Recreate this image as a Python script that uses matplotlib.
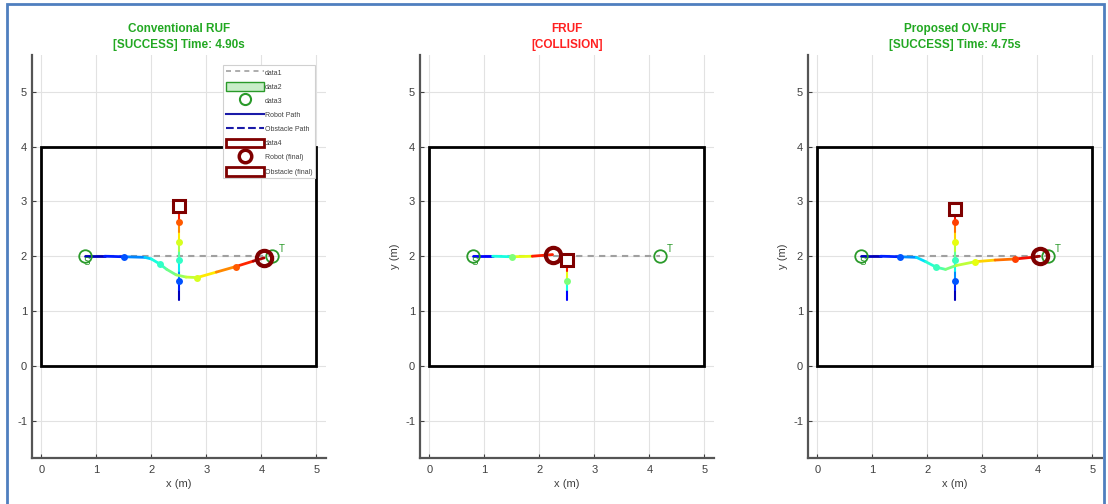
import numpy as np
import matplotlib.pyplot as plt
from matplotlib.collections import LineCollection
from matplotlib.lines import Line2D
from matplotlib.patches import Rectangle

plt.rcParams['font.family'] = ['Liberation Sans', 'DejaVu Sans']
plt.rcParams['axes.unicode_minus'] = False

# ─────────────────────────────────────────────────────────────
# Scenario data
# ─────────────────────────────────────────────────────────────
ROOM = (0.0, 0.0, 5.0, 4.0)          # x0, y0, width, height
START = (0.8, 2.0)
GOAL = (4.2, 2.0)

titles = ["Conventional RUF", "FRUF", "Proposed OV-RUF"]
statuses = ["[SUCCESS] Time: 4.90s", "[COLLISION]", "[SUCCESS] Time: 4.75s"]
success = [True, False, True]
final_times = [4.90, 2.00, 4.75]

# robot trajectories: time stamps and positions
ruf_t = [0.0, 0.5, 1.0, 1.5, 1.75, 2.0, 2.25, 2.5, 2.75, 3.0, 3.5, 4.0, 4.5, 4.9]
ruf_x = [0.80, 1.15, 1.51, 1.88, 2.00, 2.15, 2.28, 2.45, 2.63, 2.83, 3.18, 3.53, 3.85, 4.05]
ruf_y = [2.00, 2.00, 1.99, 1.98, 1.95, 1.86, 1.76, 1.66, 1.62, 1.61, 1.71, 1.81, 1.91, 1.97]

fruf_t = [0.0, 0.5, 1.0, 1.5, 2.0]
fruf_x = [0.80, 1.15, 1.50, 1.87, 2.24]
fruf_y = [2.00, 2.00, 1.99, 2.00, 2.03]

ovruf_t = [0.0, 0.5, 1.0, 1.5, 1.75, 2.0, 2.25, 2.5, 3.0, 3.5, 4.0, 4.5, 4.75]
ovruf_x = [0.80, 1.15, 1.51, 1.80, 1.97, 2.16, 2.33, 2.52, 2.87, 3.23, 3.60, 3.90, 4.04]
ovruf_y = [2.00, 2.00, 1.99, 1.98, 1.90, 1.80, 1.76, 1.83, 1.90, 1.93, 1.95, 1.98, 2.00]

# moving obstacle (crosses the corridor along x = 2.5)
obs_t = [0.0, 0.5, 1.0, 1.5, 2.0, 2.5, 3.0, 3.5, 4.0, 4.5, 4.75, 4.9]
obs_x = [2.50, 2.50, 2.50, 2.50, 2.50, 2.50, 2.50, 2.50, 2.50, 2.50, 2.50, 2.50]
obs_y = [1.20, 1.38, 1.55, 1.73, 1.93, 2.09, 2.26, 2.44, 2.62, 2.80, 2.87, 2.92]

robot_runs = [(ruf_t, ruf_x, ruf_y), (fruf_t, fruf_x, fruf_y), (ovruf_t, ovruf_x, ovruf_y)]

legend_labels = ["data1", "data2", "data3", "Robot Path", "Obstacle Path",
                 "data4", "Robot (final)", "Obstacle (final)"]

# ─────────────────────────────────────────────────────────────
# Styles
# ─────────────────────────────────────────────────────────────
OK_GREEN = '#22a822'
BAD_RED = '#ff2020'
MARK_GREEN = '#2a9a2a'
DARK_RED = '#7f0000'
AX_GRAY = '#555555'
cmap = plt.get_cmap('jet')

W, H = 1108, 504
ax_lefts = [32, 420, 808]
ax_w, ax_top, ax_bot = 294, 55, 458


def clip_run(t, x, y, t_end):
    keep = [i for i, ti in enumerate(t) if ti <= t_end + 1e-9]
    return ([t[i] for i in keep], [x[i] for i in keep], [y[i] for i in keep])


def draw_timed_path(ax, t, x, y, t_end, lw):
    pts = np.column_stack([x, y])
    segs = np.stack([pts[:-1], pts[1:]], axis=1)
    mids = (np.asarray(t[:-1]) + np.asarray(t[1:])) / 2
    lc = LineCollection(segs, colors=cmap(mids / t_end), linewidth=lw,
                        capstyle='round', joinstyle='round', zorder=3)
    ax.add_collection(lc)
    # one dot per whole second
    for ti, xi, yi in zip(t, x, y):
        if ti > 0 and abs(ti - round(ti)) < 1e-9 and ti < t_end:
            ax.plot(xi, yi, 'o', ms=5, color=cmap(ti / t_end), mec='none', zorder=4)


fig = plt.figure(figsize=(W / 100, H / 100), dpi=100)

for k in range(3):
    ax = fig.add_axes([ax_lefts[k] / W, 1 - ax_bot / H, ax_w / W, (ax_bot - ax_top) / H])
    t_end = final_times[k]

    ax.set_xlim(-0.17, 5.175)
    ax.set_ylim(-1.68, 5.67)
    ax.set_xticks(range(0, 6))
    ax.set_yticks(range(-1, 6))
    ax.grid(True, color='#e2e2e2', linewidth=0.8)
    ax.set_axisbelow(True)
    for side in ['top', 'right']:
        ax.spines[side].set_visible(False)
    for side in ['left', 'bottom']:
        ax.spines[side].set_color(AX_GRAY)
        ax.spines[side].set_linewidth(1.6)
    ax.tick_params(direction='in', length=3, width=0.8, colors='#404040', labelsize=8)
    ax.tick_params(axis='x', pad=5)
    ax.set_xlabel("x (m)", fontsize=8, color='#404040', labelpad=3)
    if k > 0:
        ax.set_ylabel("y (m)", fontsize=8, color='#404040', labelpad=4)

    color = OK_GREEN if success[k] else BAD_RED
    ax.set_title(titles[k] + "\n" + statuses[k], color=color, fontsize=8.5,
                 fontweight='bold', linespacing=1.5, pad=5)

    # room boundary
    ax.add_patch(Rectangle(ROOM[:2], ROOM[2], ROOM[3], fill=False,
                           edgecolor='black', linewidth=2, zorder=2))

    # straight reference line start -> goal
    ax.plot([START[0], GOAL[0]], [START[1], GOAL[1]], '--', color='#a0a0a0',
            linewidth=1.5, dashes=(3, 2.5), zorder=2)

    rt, rx, ry = robot_runs[k]
    ot, ox, oy = clip_run(obs_t, obs_x, obs_y, t_end)

    draw_timed_path(ax, ot, ox, oy, t_end, lw=1.5)
    draw_timed_path(ax, rt, rx, ry, t_end, lw=2.0)

    # start / goal markers
    ax.plot(*START, 'o', ms=9, mfc='none', mec=MARK_GREEN, mew=1.3, zorder=5)
    ax.plot(*GOAL, 'o', ms=9, mfc='none', mec=MARK_GREEN, mew=1.3, zorder=5)
    ax.text(START[0] + 0.02, START[1] - 0.1, "S", color=MARK_GREEN, fontsize=7,
            ha='center', va='center', zorder=5)
    ax.text(GOAL[0] + 0.17, GOAL[1] + 0.13, "T", color=MARK_GREEN, fontsize=7,
            ha='center', va='center', zorder=5)

    # final positions
    ax.plot(rx[-1], ry[-1], 'o', ms=11, mfc='none', mec=DARK_RED, mew=3, zorder=6)
    ax.plot(ox[-1], oy[-1], 's', ms=8, mfc='white', mec=DARK_RED, mew=2.2, zorder=6)

    if k == 0:
        handles = [
            Line2D([], [], linestyle='--', color='#a0a0a0', linewidth=1.2, dashes=(3, 2.5)),
            Rectangle((0, 0), 1, 1, facecolor='#c9eec9', edgecolor=MARK_GREEN, linewidth=1),
            Line2D([], [], linestyle='none', marker='o', ms=8, mfc='none',
                   mec=MARK_GREEN, mew=1.5),
            Line2D([], [], color='#1a1aa8', linewidth=1.5),
            Line2D([], [], color='#1a1aa8', linewidth=1.5, linestyle='--'),
            Rectangle((0, 0), 1, 1, facecolor='white', edgecolor=DARK_RED, linewidth=2),
            Line2D([], [], linestyle='none', marker='o', ms=9, mfc='white',
                   mec=DARK_RED, mew=2.5),
            Rectangle((0, 0), 1, 1, facecolor='white', edgecolor=DARK_RED, linewidth=2),
        ]
        leg = ax.legend(handles, legend_labels, loc='upper right',
                        bbox_to_anchor=(0.963, 0.975), borderaxespad=0,
                        fontsize=5, handlelength=5.5, handleheight=1.6,
                        handletextpad=0.1, labelspacing=0.75, borderpad=0.4,
                        fancybox=False, framealpha=1, edgecolor='#d0d0d0')
        leg.get_frame().set_linewidth(0.8)
        for txt in leg.get_texts():
            txt.set_color('#404040')

# picture border around the whole figure
fig.patches.append(Rectangle((7 / W, -0.05), (1104 - 7) / W, 1.05 - 4 / H,
                             transform=fig.transFigure, fill=False,
                             edgecolor='#4f7fbf', linewidth=2))

fig.savefig('out.png', dpi=100)
